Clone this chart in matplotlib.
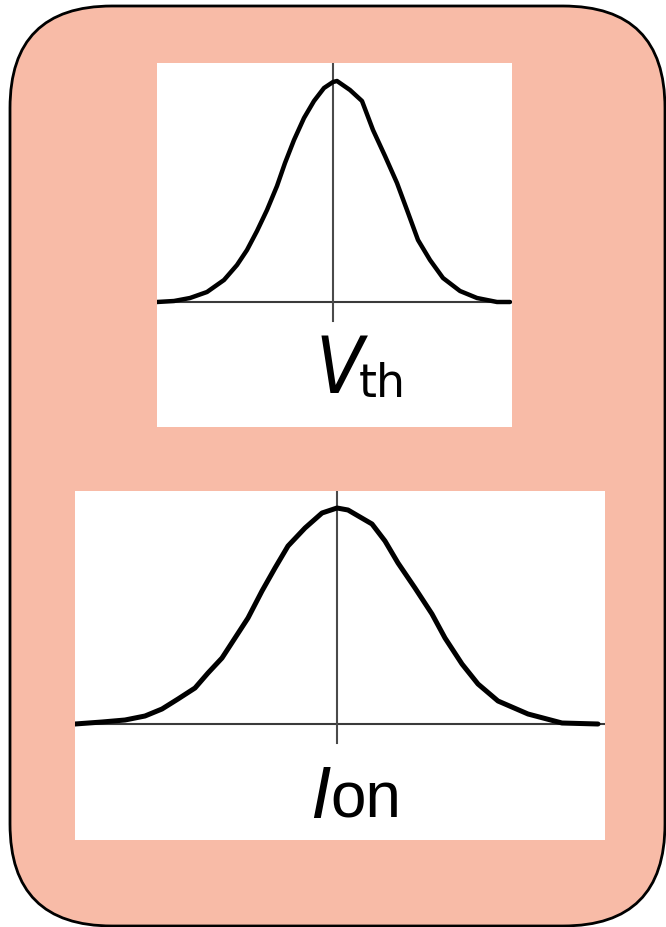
import matplotlib
matplotlib.use("Agg")
import matplotlib.pyplot as plt
from matplotlib.patches import FancyBboxPatch
from matplotlib import font_manager

# curve samples: offset from the peak (px) and height above the baseline (px)
vth_x = [-176, -159, -143, -126, -109, -96, -86, -76, -66, -56, -48, -39, -29, -19, -9, 0,
         4, 17, 29, 40, 52, 64, 74, 85, 97, 110, 127, 144, 164, 177]
vth_y = [0, 1, 4, 10, 22, 37, 52, 71, 92, 116, 139, 162, 184, 201, 214, 220,
         221, 212, 201, 172, 146, 119, 92, 62, 42, 24, 11, 4, 0, 0]

ion_x = [-262, -235, -212, -192, -175, -159, -142, -129, -115, -102, -89, -75, -62, -49, -32, -15, 0,
         11, 35, 48, 61, 78, 95, 108, 125, 141, 161, 191, 225, 261]
ion_y = [0, 2, 4, 8, 15, 25, 36, 51, 66, 86, 106, 133, 156, 178, 196, 211, 216,
         214, 200, 183, 161, 136, 110, 86, 60, 40, 23, 10, 1, 0]

W, H = 666, 927
BG = "#f8bba7"

names = {f.name for f in font_manager.fontManager.ttflist}
narrow = "Liberation Sans Narrow" if "Liberation Sans Narrow" in names else "DejaVu Sans"

fig = plt.figure(figsize=(W / 100, H / 100), dpi=100)
fig.patch.set_facecolor("white")

# background in pixel units
bg = fig.add_axes([0, 0, 1, 1])
bg.set_xlim(0, W)
bg.set_ylim(H, 0)
bg.axis("off")
box = FancyBboxPatch((10, 6), 655, 920, boxstyle="round,pad=0,rounding_size=102",
                     facecolor=BG, edgecolor="black", linewidth=2.0)
bg.add_patch(box)


def panel(rect, center, base, xs, ys, lw):
    # rect = (left, top, right, bottom) in pixels
    l, t, r, b = rect
    ax = fig.add_axes([l / W, 1 - b / H, (r - l) / W, (b - t) / H])
    ax.set_facecolor("white")
    ax.set_xlim(l - center, r - center)
    ax.set_ylim(base - b, base - t)
    for s in ax.spines.values():
        s.set_visible(False)
    ax.set_xticks([])
    ax.set_yticks([])
    ax.axhline(0, color="#3a3a3a", lw=1.5, zorder=1)
    ax.plot([0, 0], [-19, base - t], color="#4a4a4a", lw=1.5, zorder=1)
    ax.plot(xs, ys, color="black", lw=lw, solid_joinstyle="round",
            solid_capstyle="round", zorder=2)
    return ax


ax1 = panel((157, 63, 512, 427), 333, 302, vth_x, vth_y, 3.2)
ax1.text(6, -91, "V", fontsize=56, family=narrow, style="italic", fontstretch="condensed",
         ha="center", va="baseline")
ax1.text(26, -95, "th", fontsize=33, family="DejaVu Sans",
         ha="left", va="baseline")

ax2 = panel((75, 491, 605, 840), 337, 724, ion_x, ion_y, 3.6)
ax2.text(-6, -94, "I", fontsize=53, family="Liberation Sans", style="italic",
         ha="right", va="baseline")
ax2.text(-7, -94, "on", fontsize=46, family="Liberation Sans",
         ha="left", va="baseline")

fig.savefig("out.png", dpi=100)
